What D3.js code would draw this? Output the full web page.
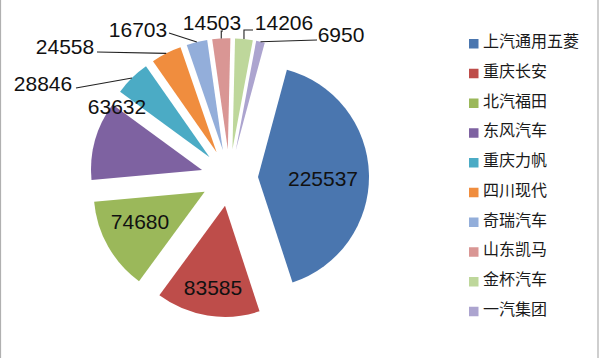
<!DOCTYPE html>
<html><head><meta charset="utf-8">
<script src="https://cdn.jsdelivr.net/npm/d3@7/dist/d3.min.js"></script>
<style>html,body{margin:0;padding:0;background:#fff;}svg{display:block;}</style>
</head><body>
<svg id="c" width="600" height="358"></svg>
<script>
// ---- data ----
const categories = ["上汽通用五菱","重庆长安","北汽福田","东风汽车","重庆力帆","四川现代","奇瑞汽车","山东凯马","金杯汽车","一汽集团"];
const values = [225537, 83585, 74680, 63632, 28846, 24558, 16703, 14503, 14206, 6950];
const colors = ["#4A76AF","#BE4D4A","#9BB85A","#7E62A1","#4BABC5","#F08D3E","#93AEDA","#D99694","#BED79B","#ACA4CF"];

// ---- layout ----
const svg = d3.select("#c");
const W = 600, H = 358;
const cx = 229.5, cy = 177.7, R = 111, explode = 28.5;
const startDeg = 15.1;

svg.append("rect").attr("x",0.5).attr("y",-2).attr("width",597.5).attr("height",H+4)
  .attr("fill","#fff").attr("stroke","#b0b0b0").attr("stroke-width",1.2);

const pie = d3.pie().sort(null).value(d => d)
  .startAngle(startDeg*Math.PI/180).endAngle(startDeg*Math.PI/180 + 2*Math.PI);
const arcs = pie(values);
const arc = d3.arc().innerRadius(0).outerRadius(R);

function off(a, dist){ return [dist*Math.sin(a), -dist*Math.cos(a)]; }
const mid = d => (d.startAngle + d.endAngle)/2;

const g = svg.append("g").attr("transform", `translate(${cx},${cy})`);
g.selectAll("path.slice").data(arcs).enter().append("path")
  .attr("class","slice")
  .attr("d", arc)
  .attr("fill", (d,i) => colors[i])
  .attr("transform", d => { const o = off(mid(d), explode); return `translate(${o[0]},${o[1]})`; });

// label placement (text centres in page pixels); leader attach point for outside labels
const labelPos = [[323,178],[213,287],[140,221],[117,106],[43,83],[65,46],[138,29],[212,22],[284,22],[341,34]];
const leaderEnd = [null,null,null,null,[76,88],[97,52],[169,33],[223,31],[253,30],[317,40]];
const leaderElbow = [false,false,false,false,false,false,false,true,true,false];

const lg = svg.append("g");
arcs.forEach((d,i) => {
  if (!leaderEnd[i]) return;
  const m = mid(d);
  const o = off(m, explode), e = off(m, R);
  const sx = cx + o[0] + e[0], sy = cy + o[1] + e[1];
  const [ex, ey] = leaderEnd[i];
  let pts = leaderElbow[i] ? [[sx,sy],[sx,ey],[ex,ey]] : [[sx,sy],[ex,ey]];
  lg.append("path").attr("d", d3.line()(pts)).attr("fill","none")
    .attr("stroke","#222").attr("stroke-width",1.1);
});

svg.append("g").selectAll("text.lbl").data(values).enter().append("text")
  .attr("class","lbl")
  .attr("x",(d,i)=>labelPos[i][0]).attr("y",(d,i)=>labelPos[i][1])
  .attr("text-anchor","middle").attr("dominant-baseline","central")
  .attr("font-family","'Liberation Sans', Arial, sans-serif").attr("font-size",21)
  .attr("fill","#111").text(d => d);

// legend
const leg = svg.append("g");
const rowY = i => 40 + i*29.75;
categories.forEach((c,i) => {
  leg.append("rect").attr("x",469).attr("y",rowY(i)-1).attr("width",9.5).attr("height",9.5).attr("fill",colors[i]);
  leg.append("text").attr("x",483).attr("y",rowY(i)).attr("dominant-baseline","central")
    .attr("font-family","'Noto Sans CJK SC', sans-serif").attr("font-size",16)
    .attr("fill","#1a1a1a").text(c);
});
</script>
</body></html>
